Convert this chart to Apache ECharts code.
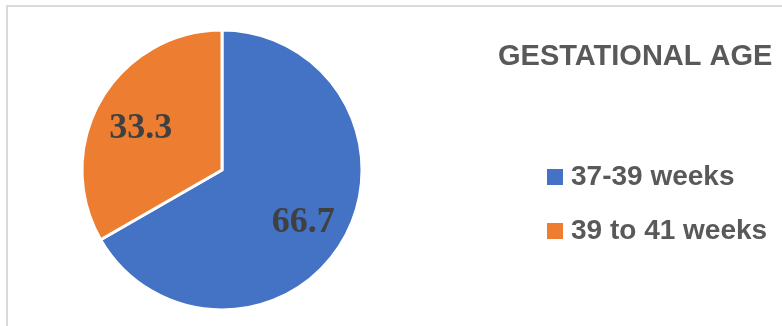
<!DOCTYPE html>
<html>
<head>
<meta charset="utf-8">
<script src="https://cdn.jsdelivr.net/npm/echarts@6/dist/echarts.min.js"></script>
<style>
  html, body { margin: 0; padding: 0; background: #fff; }
  #main { width: 782px; height: 326px; }
</style>
</head>
<body>
<div id="main"></div>
<script>
const categories = ['37-39 weeks', '39 to 41 weeks']
const values = [66.7, 33.3]
const colors = ['#4472c4', '#ed7d31']

const pieData = categories.map((name, i) => ({
  name: name,
  value: values[i],
  itemStyle: { color: colors[i] },
}))
// same values, no colour: only carries the labels
const labelData = categories.map((name, i) => ({
  name: name,
  value: values[i],
}))

var myChart = echarts.init(document.getElementById('main'))
var option = {
  animation: false,
  title: {
    text: 'GESTATIONAL AGE',
    left: 493,
    top: 37,
    textStyle: {
      fontFamily: 'Liberation Sans',
      fontWeight: 'bold',
      fontSize: 29,
      color: '#595959',
    },
  },
  legend: {
    orient: 'vertical',
    left: 540,
    top: 158,
    itemWidth: 18,
    itemHeight: 18,
    itemGap: 26,
    icon: 'rect',
    data: categories.map((name, i) => ({ name: name, itemStyle: { color: colors[i] } })),
    textStyle: {
      fontFamily: 'Liberation Sans',
      fontWeight: 'bold',
      fontSize: 28,
      color: '#595959',
      padding: [0, 0, 0, 2],
    },
  },
  graphic: [
    {
      type: 'polyline',
      shape: { points: [[7, 326], [7, 6], [782, 6]] },
      style: { stroke: '#d9d9d9', lineWidth: 2, fill: null },
      silent: true,
    },
  ],
  series: [
    {
      type: 'pie',
      center: [222, 170],
      radius: [0, 140],
      startAngle: 90,
      clockwise: true,
      data: pieData,
      itemStyle: { borderColor: '#fff', borderWidth: 3 },
      label: { show: false },
      labelLine: { show: false },
      silent: true,
      z: 2,
    },
    {
      // transparent copy used only to place the value labels further out
      type: 'pie',
      center: [222, 170],
      radius: [0, 182],
      startAngle: 90,
      clockwise: true,
      data: labelData,
      itemStyle: { color: 'rgba(0,0,0,0)', borderWidth: 0 },
      label: {
        show: true,
        position: 'inside',
        formatter: (p) => p.value.toFixed(1),
        fontFamily: 'Liberation Serif',
        fontWeight: 'bold',
        fontSize: 36,
        color: '#404040',
      },
      labelLayout: () => ({ dy: 6 }),
      labelLine: { show: false },
      silent: true,
      z: 3,
    },
  ],
}
myChart.setOption(option)
</script>
</body>
</html>
